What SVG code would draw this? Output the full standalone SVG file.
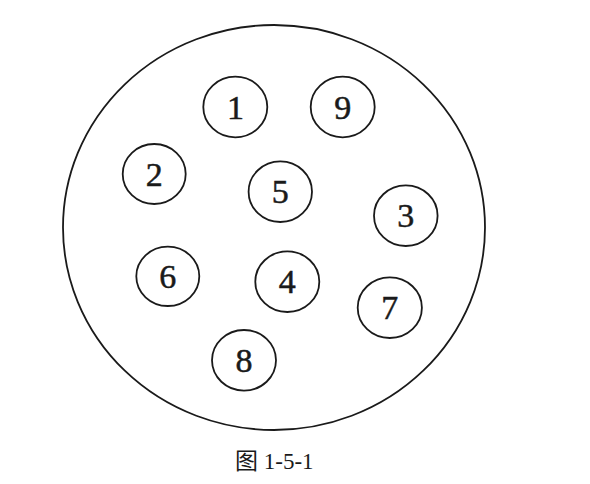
<svg xmlns="http://www.w3.org/2000/svg" width="590" height="484" viewBox="0 0 590 484">
<style>
.outer{fill:none;stroke:#1a1a1a;stroke-width:1.8}
.pin{fill:none;stroke:#1a1a1a;stroke-width:1.8}
.num{font-family:"Liberation Serif","Times New Roman",serif;font-size:34px;fill:#1a1a1a;stroke:#1a1a1a;stroke-width:0.5;text-anchor:middle}
.cap{font-family:"Liberation Serif","Noto Sans CJK SC",serif;font-size:23px;fill:#1a1a1a}
</style>
<rect width="590" height="484" fill="#ffffff"/>
<g id="housing"><ellipse class="outer" cx="274" cy="227.5" rx="211" ry="202.5"/></g>
<g id="pin1"><ellipse class="pin" cx="235.3" cy="107" rx="32" ry="30.3"/><text class="num" x="235.5" y="118.7">1</text></g>
<g id="pin9"><ellipse class="pin" cx="342.7" cy="107" rx="32" ry="30.3"/><text class="num" x="342.7" y="118.7">9</text></g>
<g id="pin2"><ellipse class="pin" cx="154.2" cy="174" rx="31.5" ry="30"/><text class="num" x="154.2" y="185.7">2</text></g>
<g id="pin5"><ellipse class="pin" cx="280.3" cy="191.7" rx="31.7" ry="30.3"/><text class="num" x="280.3" y="203.4">5</text></g>
<g id="pin3"><ellipse class="pin" cx="405.8" cy="215.7" rx="31.8" ry="30.3"/><text class="num" x="405.8" y="227.4">3</text></g>
<g id="pin6"><ellipse class="pin" cx="167.8" cy="276.3" rx="31.5" ry="29.7"/><text class="num" x="167.8" y="288">6</text></g>
<g id="pin4"><ellipse class="pin" cx="287.3" cy="281.7" rx="32" ry="30.3"/><text class="num" x="287.3" y="293.4">4</text></g>
<g id="pin7"><ellipse class="pin" cx="389.8" cy="307.7" rx="32.1" ry="30.3"/><text class="num" x="389.8" y="319.4">7</text></g>
<g id="pin8"><ellipse class="pin" cx="244" cy="360.3" rx="32" ry="30.3"/><text class="num" x="244" y="372">8</text></g>
<g id="connectors"></g>
<text class="cap" x="235" y="468.5">图 1-5-1</text>
</svg>
